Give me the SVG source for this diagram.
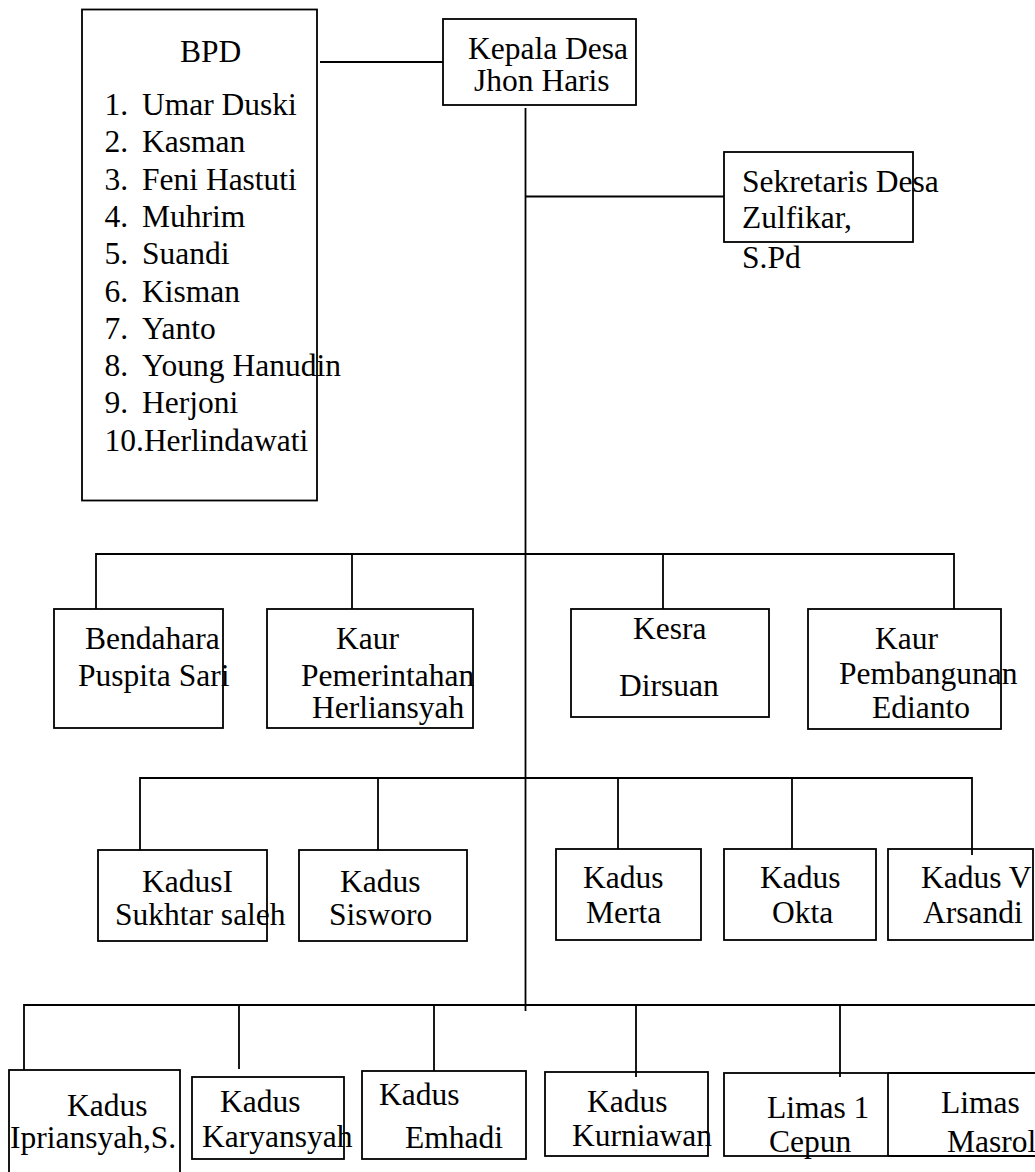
<svg xmlns="http://www.w3.org/2000/svg" width="1035" height="1172" viewBox="0 0 1035 1172">
<style>
.box{fill:none;stroke:#000;stroke-width:1.8}
.ln{fill:none;stroke:#000;stroke-width:1.8}
text{font-family:"Liberation Serif","Times New Roman",serif;font-size:31.5px;fill:#000}
</style>
<rect width="1035" height="1172" fill="#fff"/>
<g id="connectors">
<line class="ln" x1="320" y1="62" x2="443" y2="62"/>
<line class="ln" x1="525.5" y1="108" x2="525.5" y2="1011"/>
<line class="ln" x1="525.5" y1="196.5" x2="724" y2="196.5"/>
<polyline class="ln" points="96,609 96,554 954,554 954,609"/>
<line class="ln" x1="352" y1="554" x2="352" y2="609"/>
<line class="ln" x1="663" y1="554" x2="663" y2="609"/>
<polyline class="ln" points="140,850 140,778 972,778 972,855"/>
<line class="ln" x1="378" y1="778" x2="378" y2="850"/>
<line class="ln" x1="618" y1="778" x2="618" y2="849"/>
<line class="ln" x1="792" y1="778" x2="792" y2="849"/>
<polyline class="ln" points="24,1070 24,1005 1035,1005"/>
<line class="ln" x1="239" y1="1005" x2="239" y2="1069"/>
<line class="ln" x1="434" y1="1005" x2="434" y2="1071"/>
<line class="ln" x1="636" y1="1005" x2="636" y2="1077"/>
<line class="ln" x1="840" y1="1005" x2="840" y2="1077"/>
</g>
<g id="bpd">
<rect class="box" x="82" y="9.5" width="235" height="491"/>
<text x="180" y="62">BPD</text>
<text x="104.5" y="115">1.</text><text x="142" y="115">Umar Duski</text>
<text x="104.5" y="152">2.</text><text x="142" y="152">Kasman</text>
<text x="104.5" y="190">3.</text><text x="142" y="190">Feni Hastuti</text>
<text x="104.5" y="227">4.</text><text x="142" y="227">Muhrim</text>
<text x="104.5" y="264">5.</text><text x="142" y="264">Suandi</text>
<text x="104.5" y="302">6.</text><text x="142" y="302">Kisman</text>
<text x="104.5" y="339">7.</text><text x="142" y="339">Yanto</text>
<text x="104.5" y="376">8.</text><text x="142" y="376">Young Hanudin</text>
<text x="104.5" y="413">9.</text><text x="142" y="413">Herjoni</text>
<text x="104.5" y="451">10.Herlindawati</text>
</g>
<g id="kepala">
<rect class="box" x="443" y="19" width="193" height="86"/>
<text x="468" y="59">Kepala Desa</text>
<text x="474" y="91">Jhon Haris</text>
</g>
<g id="sekretaris">
<rect class="box" x="724" y="152" width="189" height="90"/>
<text x="742" y="192">Sekretaris Desa</text>
<text x="742" y="228">Zulfikar,</text>
<text x="742" y="268">S.Pd</text>
</g>
<g id="bendahara">
<rect class="box" x="54" y="609" width="169" height="119"/>
<text x="85" y="649">Bendahara</text>
<text x="78" y="686">Puspita Sari</text>
</g>
<g id="kaur-pemerintahan">
<rect class="box" x="267" y="609" width="206" height="119"/>
<text x="336" y="649">Kaur</text>
<text x="301" y="686">Pemerintahan</text>
<text x="312" y="718">Herliansyah</text>
</g>
<g id="kesra">
<rect class="box" x="571" y="609" width="198" height="108"/>
<text x="633" y="639">Kesra</text>
<text x="619" y="696">Dirsuan</text>
</g>
<g id="kaur-pembangunan">
<rect class="box" x="808" y="609" width="193" height="120"/>
<text x="875" y="649">Kaur</text>
<text x="839" y="684">Pembangunan</text>
<text x="872" y="718">Edianto</text>
</g>
<g id="kadus-1">
<rect class="box" x="98" y="850" width="169" height="91"/>
<text x="142" y="892">KadusI</text>
<text x="115" y="925">Sukhtar saleh</text>
</g>
<g id="kadus-sisworo">
<rect class="box" x="299" y="850" width="168" height="91"/>
<text x="340" y="892">Kadus</text>
<text x="329" y="925">Sisworo</text>
</g>
<g id="kadus-merta">
<rect class="box" x="556" y="849" width="145" height="91"/>
<text x="583" y="888">Kadus</text>
<text x="586" y="923">Merta</text>
</g>
<g id="kadus-okta">
<rect class="box" x="724" y="849" width="152" height="91"/>
<text x="760" y="888">Kadus</text>
<text x="772" y="923">Okta</text>
</g>
<g id="kadus-5">
<rect class="box" x="888" y="849" width="145" height="91"/>
<text x="921" y="888">Kadus V</text>
<text x="923" y="923">Arsandi</text>
</g>
<g id="kadus-ipriansyah">
<rect class="box" x="9" y="1070" width="171" height="110"/>
<text x="67" y="1116">Kadus</text>
<text x="10" y="1148">Ipriansyah,S.</text>
</g>
<g id="kadus-karyansyah">
<rect class="box" x="192" y="1077" width="152" height="82"/>
<text x="220" y="1112">Kadus</text>
<text x="202" y="1147">Karyansyah</text>
</g>
<g id="kadus-emhadi">
<rect class="box" x="362" y="1071" width="164" height="88"/>
<text x="379" y="1105">Kadus</text>
<text x="405" y="1148">Emhadi</text>
</g>
<g id="kadus-kurniawan">
<rect class="box" x="545" y="1072" width="163" height="84"/>
<text x="587" y="1112">Kadus</text>
<text x="572" y="1146">Kurniawan</text>
</g>
<g id="limas-1">
<rect class="box" x="724" y="1073" width="164" height="83"/>
<text x="767" y="1118">Limas 1</text>
<text x="769" y="1152">Cepun</text>
</g>
<g id="limas-2">
<polyline class="box" points="888,1073 1040,1073 1040,1156 888,1156"/>
<text x="941" y="1113">Limas</text>
<text x="947" y="1152">Masrol</text>
</g>
</svg>
